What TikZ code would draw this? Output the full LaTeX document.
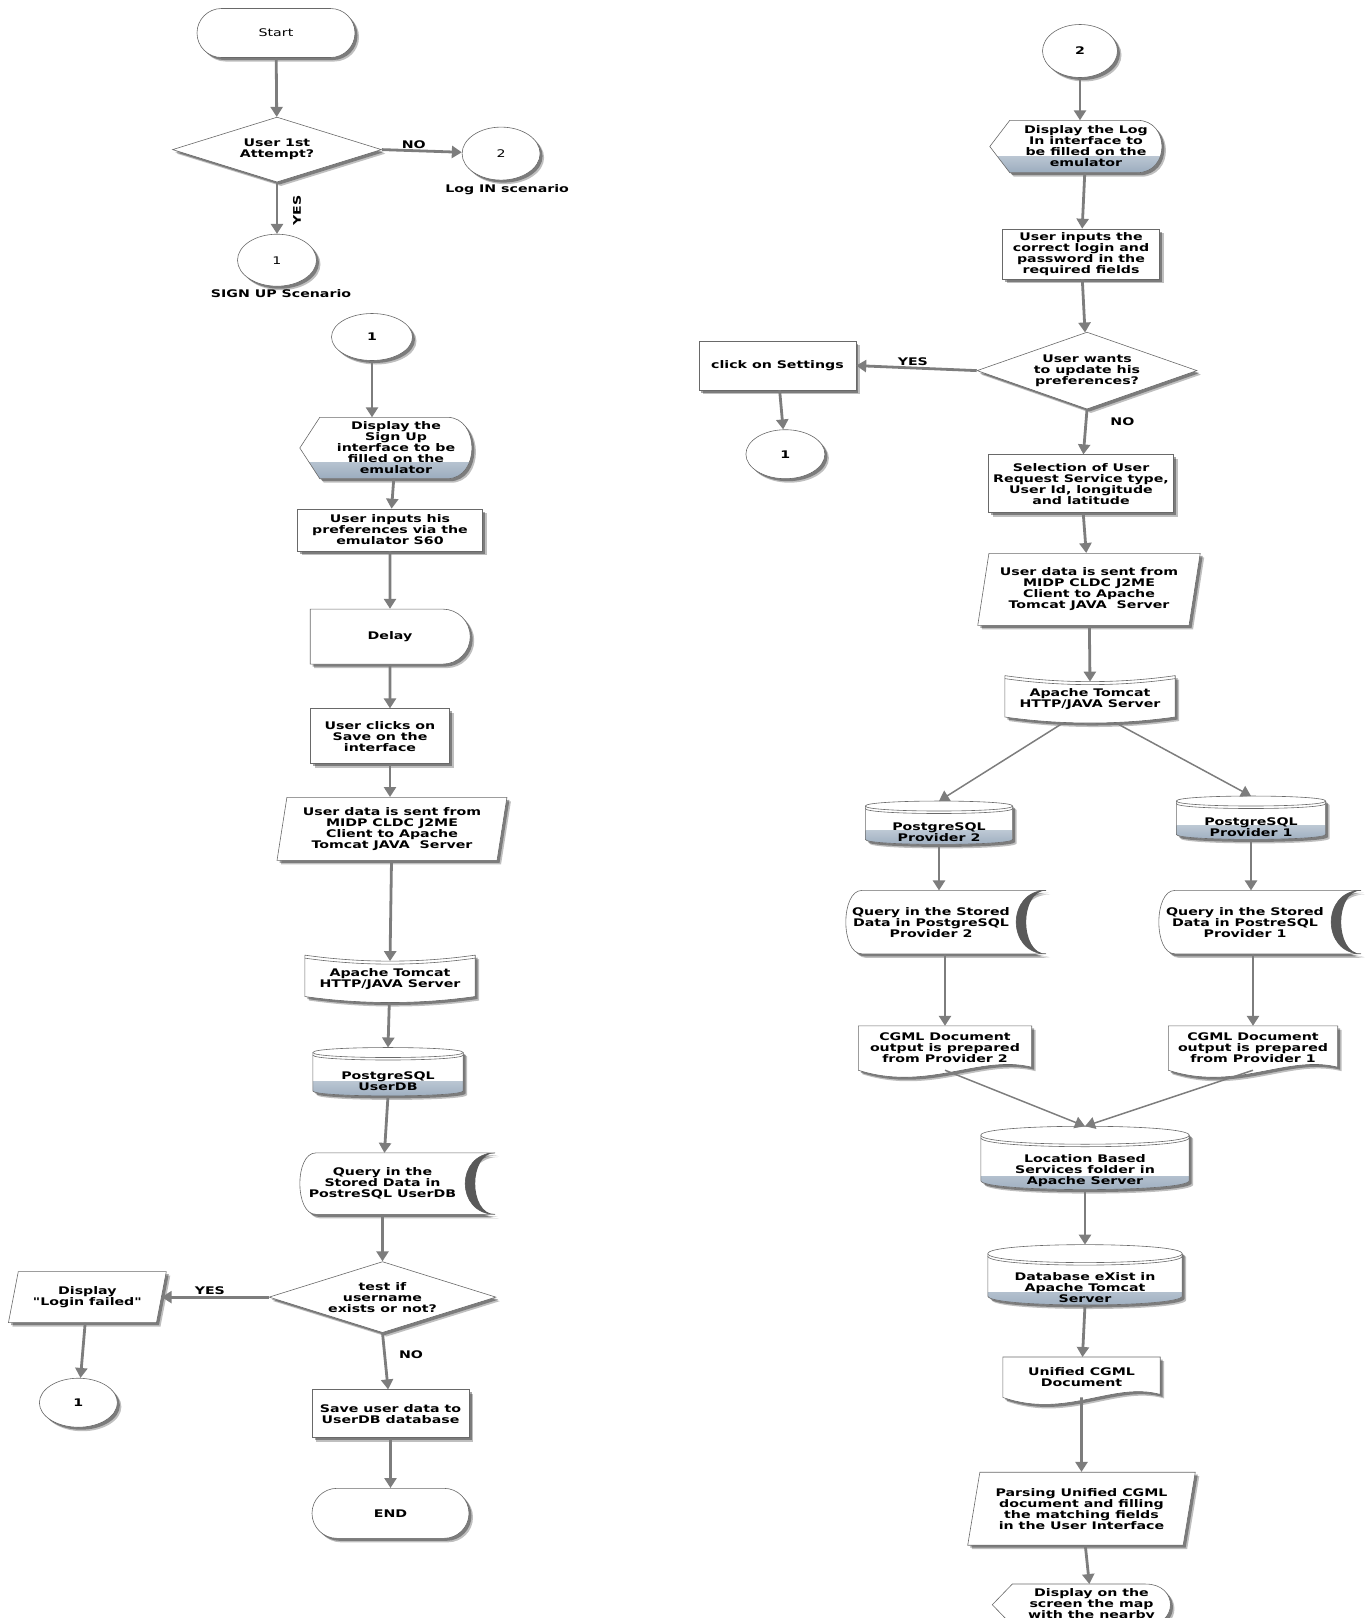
\documentclass[tikz,border=0pt]{standalone}
\usepackage{fontspec}
\setmainfont{DejaVu Sans}[FakeStretch=1.35, Ligatures=TeXOff]
\usepackage{tikz}
\usetikzlibrary{positioning, arrows.meta, calc, shapes.geometric, shapes.misc, shadows, backgrounds}
\definecolor{lineg}{RGB}{105,105,105}
\definecolor{arrowg}{RGB}{125,125,125}
\definecolor{shadeblue}{RGB}{155,172,190}
\newcommand{\flowfont}{\fontsize{10.5}{11}\selectfont}

% outlines drawn round plain text nodes
\newcommand{\dispout}[2][grad]{%
  \path[shp,#1] ([xshift=-20pt]#2.west) -- (#2.north west) -- ([xshift=-25pt]#2.north east)
    .. controls ([xshift=8pt]#2.north east) and ([xshift=8pt]#2.south east) .. ([xshift=-25pt]#2.south east)
    -- (#2.south west) -- cycle;}
\newcommand{\docout}[1]{%
  \path[shp] (#1.north west) -- (#1.north east) -- ([yshift=3pt]#1.south east)
    .. controls ($(#1.south east)!0.3!(#1.south west)+(0pt,16pt)$) and ($(#1.south east)!0.6!(#1.south west)+(0pt,-22pt)$) .. (#1.south west) -- cycle;}
\newcommand{\storedout}[1]{%
  \path[shp] ([xshift=16pt]#1.north west) -- ([xshift=30pt]#1.north east)
    .. controls ([xshift=-10pt]#1.north east) and ([xshift=-10pt]#1.south east) .. ([xshift=30pt]#1.south east)
    -- ([xshift=16pt]#1.south west)
    .. controls ([xshift=-5.3pt]#1.south west) and ([xshift=-5.3pt]#1.north west) .. ([xshift=16pt]#1.north west) -- cycle;
  \fill[black!65] ([xshift=30pt]#1.north east)
    .. controls ([xshift=-10pt]#1.north east) and ([xshift=-10pt]#1.south east) .. ([xshift=30pt]#1.south east)
    .. controls ([xshift=3.3pt]#1.south east) and ([xshift=3.3pt]#1.north east) .. ([xshift=30pt]#1.north east) -- cycle;}
\newcommand{\storeout}[1]{%
  \path[shp] (#1.north west)
    .. controls ($(#1.north west)!0.33!(#1.north east)+(0pt,-8pt)$) and ($(#1.north west)!0.67!(#1.north east)+(0pt,-8pt)$) .. (#1.north east)
    -- ([yshift=6pt]#1.south east)
    .. controls ($(#1.south east)!0.33!(#1.south west)+(0pt,-2pt)$) and ($(#1.south east)!0.67!(#1.south west)+(0pt,-2pt)$) .. ([yshift=6pt]#1.south west) -- cycle;
  \draw[outl] ([yshift=-3pt]#1.north west)
    .. controls ($(#1.north west)!0.33!(#1.north east)+(0pt,-11pt)$) and ($(#1.north west)!0.67!(#1.north east)+(0pt,-11pt)$) .. ([yshift=-3pt]#1.north east);}
\newcommand{\cylout}[2]{%
  \path[shp,grad] ([yshift=#2]#1.north west) -- ([yshift=8pt+#2]#1.south west)
    .. controls ([yshift=8pt-0.33*#2]#1.south west) and ([yshift=8pt-0.33*#2]#1.south east) .. ([yshift=8pt+#2]#1.south east)
    -- ([yshift=#2]#1.north east)
    .. controls ([yshift=2.33*#2]#1.north east) and ([yshift=2.33*#2]#1.north west) .. ([yshift=#2]#1.north west) -- cycle;
  \draw[outl] ([yshift=#2]#1.north west)
    .. controls ([yshift=-0.33*#2]#1.north west) and ([yshift=-0.33*#2]#1.north east) .. ([yshift=#2]#1.north east);
  \draw[outl] ([yshift=#2-2.5pt]#1.north west)
    .. controls ([yshift=-0.33*#2-2.5pt]#1.north west) and ([yshift=-0.33*#2-2.5pt]#1.north east) .. ([yshift=#2-2.5pt]#1.north east);}

\begin{document}
\begin{tikzpicture}[
    x=1pt, y=-1pt,
    txt/.style={align=center, inner sep=0pt, text=black, font=\flowfont\bfseries},
    outl/.style={draw=lineg, line width=0.6pt},
    shp/.style={outl, fill=white,
      drop shadow={shadow xshift=4pt, shadow yshift=-4pt, opacity=0.25, fill=black},
      drop shadow={shadow xshift=2.5pt, shadow yshift=-2.5pt, opacity=0.35, fill=black}},
    grad/.style={path picture={\shade[top color=white, bottom color=shadeblue]
      ([yshift=16pt]path picture bounding box.south west) rectangle (path picture bounding box.south east);}},
    txtonly/.style={txt, rectangle},
    box/.style={txt, shp, rectangle},
    term/.style={txt, shp, rounded rectangle},
    delaybox/.style={txt, shp, rounded rectangle, rounded rectangle west arc=none},
    decision/.style={txt, shp, diamond, aspect=3.2},
    conn/.style={txt, shp, ellipse},
    io/.style 2 args={txt, shp, trapezium, trapezium stretches=true, trapezium left angle=#1, trapezium right angle=#2},
    arr/.style={draw=arrowg, line width=2.8pt, -{Triangle[length=10pt, width=12pt]}},
    thinarr/.style={arr, line width=1.5pt},
    lbl/.style={font=\flowfont\bfseries, inner sep=1pt}
  ]
  \useasboundingbox (0,0) rectangle (1365,1618);

  \node[term, font=\flowfont, minimum width=158pt, minimum height=49pt] (start) at (276,33) {Start};
  \node[decision, minimum width=209pt, minimum height=65pt, below=59pt of start, xshift=1pt] (first) {User 1st\\Attempt?};
  \node[conn, font=\flowfont, minimum width=78pt, minimum height=53pt, right=80pt of first, yshift=-4pt] (login) {2};
  \node[conn, font=\flowfont, minimum width=79pt, minimum height=52pt, below=51.5pt of first] (signup) {1};
  \node[lbl, below=3pt of login, xshift=6pt] (loginlbl) {Log IN scenario};
  \node[lbl, below=2pt of signup, xshift=4pt] (signuplbl) {SIGN UP Scenario};

  \node[conn, minimum width=81pt, minimum height=47pt] (su) at (372,337) {1};
  \node[txtonly, minimum width=152pt, minimum height=61pt, below=56.5pt of su, xshift=24pt] (sudisp) {Display the\\Sign Up\\interface to be\\filled on the\\emulator};
  \node[box, minimum width=185pt, minimum height=42pt, below=30pt of sudisp, xshift=-6pt] (suinput) {User inputs his\\preferences via the\\emulator S60};
  \node[delaybox, minimum width=160pt, minimum height=55pt, below=57.5pt of suinput] (delay) {Delay};
  \node[box, minimum width=139pt, minimum height=55pt, below=44pt of delay, xshift=-10pt] (susave) {User clicks on\\Save on the\\interface};
  \node[io={79}{101}, minimum width=230pt, minimum height=63pt, below=33pt of susave, xshift=12pt] (susend) {User data is sent from\\MIDP CLDC J2ME\\Client to Apache\\Tomcat JAVA\ \ Server};
  \node[txtonly, minimum width=170pt, minimum height=47pt, below=94.5pt of susend, xshift=-2pt] (sutomcat) {Apache Tomcat\\HTTP/JAVA Server};
  \node[txtonly, minimum width=150pt, minimum height=46pt, below=55pt of sutomcat, xshift=-2pt] (userdb) {PostgreSQL\\UserDB};
  \node[txtonly, minimum width=165pt, minimum height=61pt, below=49pt of userdb, xshift=-5.5pt] (suquery) {Query in the\\Stored Data in\\PostreSQL UserDB};
  \node[decision, minimum width=227pt, minimum height=71pt, below=47pt of suquery] (exists) {test if\\username\\exists or not?};
  \node[box, minimum width=157pt, minimum height=48pt, below=56.5pt of exists, xshift=8pt] (saveuser) {Save user data to\\UserDB database};
  \node[term, minimum width=157pt, minimum height=50pt, below=50pt of saveuser] (theend) {END};
  \node[io={70}{110}, minimum width=158pt, minimum height=51pt, left=112pt of exists, xshift=5pt] (failed) {Display\\"Login failed"};
  \node[conn, minimum width=78pt, minimum height=49pt, below=55pt of failed, xshift=-9pt] (retry) {1};

  \node[conn, minimum width=75pt, minimum height=53pt] (li) at (1080,51) {2};
  \node[txtonly, minimum width=152pt, minimum height=52pt, below=42.5pt of li, xshift=6pt] (lidisp) {Display the Log\\In interface to\\be filled on the\\emulator};
  \node[box, minimum width=157pt, minimum height=50pt, below=56pt of lidisp, xshift=-5pt] (liinput) {User inputs the\\correct login and\\password in the\\required fields};
  \node[decision, aspect=2.8, minimum width=220pt, minimum height=77pt, below=52.5pt of liinput, xshift=6pt] (update) {User wants\\to update his\\preferences?};
  \node[box, minimum width=157pt, minimum height=49pt, left=120.5pt of update, yshift=5pt] (settings) {click on Settings};
  \node[conn, minimum width=79pt, minimum height=49pt, below=39pt of settings, xshift=8pt] (back) {1};
  \node[box, minimum width=185pt, minimum height=58pt, below=45pt of update, xshift=-6pt] (select) {Selection of User\\Request Service type,\\User Id, longitude\\and latitude};
  \node[io={77}{103}, minimum width=223pt, minimum height=72pt, below=40pt of select, xshift=8pt] (lisend) {User data is sent from\\MIDP CLDC J2ME\\Client to Apache\\Tomcat JAVA\ \ Server};
  \node[txtonly, minimum width=170pt, minimum height=47pt, below=50pt of lisend, xshift=1pt] (litomcat) {Apache Tomcat\\HTTP/JAVA Server};
  \node[txtonly, minimum width=147pt, minimum height=41pt, below=88pt of litomcat, xshift=-151pt] (prov2) {PostgreSQL\\Provider 2};
  \node[txtonly, minimum width=149pt, minimum height=41pt, below=83pt of litomcat, xshift=161pt] (prov1) {PostgreSQL\\Provider 1};
  \node[txtonly, minimum width=170pt, minimum height=63pt, below=38pt of prov2, xshift=-8pt] (query2) {Query in the Stored\\Data in PostgreSQL\\Provider 2};
  \node[txtonly, minimum width=172pt, minimum height=63pt, below=43pt of prov1, xshift=-6pt] (query1) {Query in the Stored\\Data in PostreSQL\\Provider 1};
  \node[txtonly, minimum width=173pt, minimum height=44pt, below=72pt of query2, xshift=14pt] (cgml2) {CGML Document\\output is prepared\\from Provider 2};
  \node[txtonly, minimum width=169pt, minimum height=44pt, below=72pt of query1, xshift=8pt] (cgml1) {CGML Document\\output is prepared\\from Provider 1};
  \node[txtonly, minimum width=208pt, minimum height=53pt, below=74pt of cgml2, xshift=140pt] (lbs) {Location Based\\Services folder in\\Apache Server};
  \node[txtonly, minimum width=194pt, minimum height=50pt, below=65pt of lbs, xshift=0pt] (exist) {Database eXist in\\Apache Tomcat\\Server};
  \node[txtonly, minimum width=157pt, minimum height=40pt, below=44pt of exist, xshift=-3.5pt] (unified) {Unified CGML\\Document};
  \node[io={76}{104}, minimum width=228pt, minimum height=73pt, below=74.5pt of unified] (parse) {Parsing Unified CGML\\document and filling\\the matching fields\\in the User Interface};
  \node[txtonly, minimum width=158pt, minimum height=41pt, below=38.5pt of parse, xshift=10pt] (showmap) {Display on the\\screen the map\\with the nearby};

  \begin{scope}[on background layer]
    \dispout{sudisp}
    \dispout{lidisp}
    \dispout[]{showmap}
    \storeout{sutomcat}
    \storeout{litomcat}
    \cylout{userdb}{5pt}
    \cylout{prov2}{5pt}
    \cylout{prov1}{5pt}
    \cylout{lbs}{9pt}
    \cylout{exist}{9pt}
    \storedout{suquery}
    \storedout{query2}
    \storedout{query1}
    \docout{cgml2}
    \docout{cgml1}
    \docout{unified}
  \end{scope}

  \draw[arr] (start) -- (first);
  \draw[arr] (first.east) -- node[lbl, above, pos=0.4] (no1) {NO} (login);
  \draw[arr] (first.south) -- node[lbl, pos=0.55, xshift=20pt, rotate=90] (yes1) {YES} (signup);

  \draw[arr] (su) -- (su |- sudisp.north);
  \draw[arr] (sudisp) -- (suinput);
  \draw[arr] (suinput) -- (delay);
  \draw[arr] (delay) -- (delay |- susave.north);
  \draw[arr] (delay |- susave.south) -- (delay |- susend.north);
  \draw[arr] (susend) -- ([yshift=-6pt]sutomcat.north);
  \draw[arr] (sutomcat) -- ([yshift=10pt]userdb.north);
  \draw[arr] ([yshift=8pt]userdb.south) -- (suquery);
  \draw[arr] (suquery) -- (exists);
  \draw[arr] (exists.west) -- node[lbl, above, pos=0.55] (yes2) {YES} (failed.east);
  \draw[arr] (failed) -- (retry);
  \draw[arr] (exists.south) -- node[lbl, right=12pt, pos=0.38] (no2) {NO} (saveuser);
  \draw[arr] (saveuser) -- (theend);

  \draw[arr] (li) -- (li |- lidisp.north);
  \draw[arr] (lidisp) -- (liinput);
  \draw[arr] (liinput) -- (update);
  \draw[arr] (update.west) -- node[lbl, above, pos=0.53] (yes3) {YES} (settings.east);
  \draw[arr] (settings) -- (back);
  \draw[arr] (update.south) -- node[lbl, right=22pt, pos=0.27] (no3) {NO} (select);
  \draw[arr] (select) -- (lisend);
  \draw[arr] (lisend) -- ([yshift=-6pt]litomcat.north);
  \draw[thinarr] ([xshift=-27pt]litomcat.south) -- ([yshift=10pt]prov2.north);
  \draw[thinarr] ([xshift=26pt]litomcat.south) -- ([yshift=10pt]prov1.north);
  \draw[arr] ([yshift=8pt]prov2.south) -- (prov2.south |- query2.north);
  \draw[arr] ([yshift=8pt]prov1.south) -- (prov1.south |- query1.north);
  \draw[arr] (cgml2.north |- query2.south) -- (cgml2);
  \draw[arr] (cgml1.north |- query1.south) -- (cgml1);
  \draw[thinarr] (cgml2.south) -- ([yshift=18pt]lbs.north);
  \draw[thinarr] (cgml1.south) -- ([yshift=18pt]lbs.north);
  \draw[arr] ([yshift=8pt]lbs.south) -- ([yshift=18pt]exist.north);
  \draw[arr] ([yshift=8pt]exist.south) -- (unified);
  \draw[arr] (unified) -- (parse);
  \draw[arr] (parse) -- (showmap);

\end{tikzpicture}
\end{document}
